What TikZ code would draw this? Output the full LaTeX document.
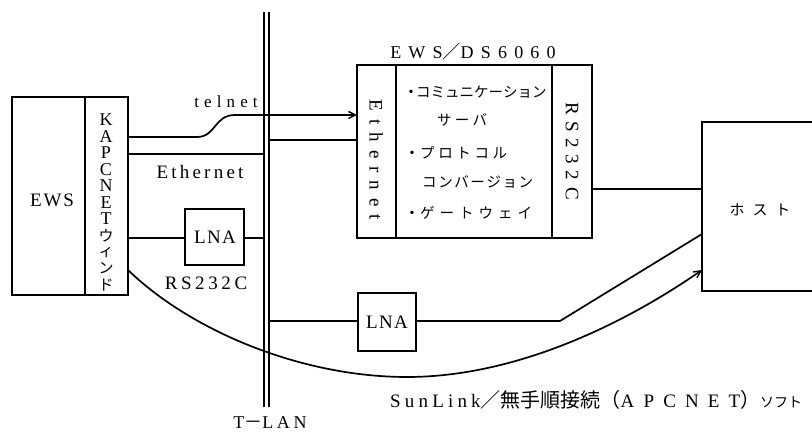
\documentclass[tikz,border=0pt]{standalone}
\usepackage{fontspec}
\setmainfont{Liberation Serif}
\newfontfamily\jp{Noto Sans CJK JP}
\usetikzlibrary{arrows.meta}
\newcommand{\ls}[2]{{\addfontfeature{LetterSpace=#1}#2}}
\newcommand{\fs}[1]{\fontsize{#1}{#1}\selectfont}
\begin{document}
\begin{tikzpicture}[x=1pt,y=-1pt,
  box/.style={draw,line width=2pt,rectangle,inner sep=0pt},
  wire/.style={line width=1.7pt},
  rail/.style={line width=1.8pt},
  lbl/.style={inner sep=0pt,font=\fs{19}},
  jlbl/.style={inner sep=0pt,font=\jp\fs{14.5}},
  barb/.style={-{Straight Barb[length=7pt,width=7pt,line width=1.4pt]}}]
\useasboundingbox (0,0) rectangle (812,435);
% boxes
\node[box,minimum width=116pt,minimum height=198pt] (ews) at (70,196) {};
\node[box,minimum width=235pt,minimum height=173pt] (ds) at (474.5,151.5) {};
\node[box,minimum width=59pt,minimum height=56pt] (lna1) at (214.5,237) {};
\node[box,minimum width=58pt,minimum height=58pt] (lna2) at (387,322) {};
\node[box,minimum width=128pt,minimum height=169pt] (host) at (766,206.5) {};
% dividers
\coordinate (ewsd) at (85,0);
\draw[line width=1.6pt] (ews.north -| ewsd) -- (ews.south -| ewsd);
\coordinate (dsd1) at (396,0);
\coordinate (dsd2) at (552,0);
\draw[line width=1.6pt] (ds.north -| dsd1) -- (ds.south -| dsd1);
\draw[line width=1.6pt] (ds.north -| dsd2) -- (ds.south -| dsd2);
% T-LAN rails
\coordinate (r1t) at (264,12); \coordinate (r1b) at (264,407);
\coordinate (r2t) at (269,12); \coordinate (r2b) at (269,407);
\draw[rail] (r1t) -- (r1b);
\draw[rail] (r2t) -- (r2b);
% texts
\node[lbl] (tews) at (52,200) {\ls{10}{EWS}};
\foreach \ch/\yy [count=\i] in {K/120,A/136.5,P/153,C/169.5,N/186,E/202.5,T/219}
  \node[lbl,font=\fs{18}] (kp\i) at (106,\yy) {\ch};
\foreach \ch/\yy [count=\i] in {ウ/235.5,ィ/252,ン/268.5,ド/285}
  \node[jlbl,font=\jp\fs{15}] (kj\i) at (106,\yy) {\ch};
\node[lbl,font=\fs{17}] (ttelnet) at (226,102) {\ls{30}{telnet}};
\node[lbl,font=\fs{19}] (teth) at (200,172) {\ls{17}{Ethernet}};
\node[lbl] (tlna1) at (215,237) {\ls{7}{LNA}};
\node[lbl] (tlna2) at (387,322) {\ls{7}{LNA}};
\node[lbl] (trs) at (206,283) {\ls{19}{RS232C}};
\node[lbl,font=\fs{18}] (ttitle) at (473,52) {\ls{40}{EWS}{\jp ／}\ls{40}{DS6060}};
\node[lbl,font=\fs{19},rotate=-90] (tdeth) at (376,160) {\ls{42}{Ethernet}};
\node[lbl,font=\fs{19},rotate=-90] (tdrs) at (572,151) {\ls{35}{RS232C}};
\node[jlbl,font=\jp\fs{15}] (thost) at (760,210) {ホ\hspace{8pt}ス\hspace{8pt}ト};
\node[lbl,font=\fs{18},anchor=base] (ttlan) at (270,429) {\ls{20}{T}{\jp －}\ls{20}{LAN}};
% middle list
\node[inner sep=0pt,font=\fs{14}] (b1) at (411,93) {•};
\node[jlbl,anchor=west] (m1) at (416,92) {\makebox[117pt][s]{コ\hfill ミ\hfill ュ\hfill ニ\hfill ケ\hfill ー\hfill シ\hfill ョ\hfill ン}};
\node[jlbl,anchor=west] (m2) at (437,120) {\makebox[50pt][s]{サ\hfill ー\hfill バ}};
\node[inner sep=0pt,font=\fs{14}] (b2) at (412,154) {•};
\node[jlbl,anchor=west] (m3) at (420,153) {\makebox[87pt][s]{プ\hfill ロ\hfill ト\hfill コ\hfill ル}};
\node[jlbl,anchor=west] (m4) at (422,182) {\makebox[111pt][s]{コ\hfill ン\hfill バ\hfill ー\hfill ジ\hfill ョ\hfill ン}};
\node[inner sep=0pt,font=\fs{14}] (b3) at (412,214) {•};
\node[jlbl,anchor=west] (m5) at (420,213) {\makebox[112pt][s]{ゲ\hfill ー\hfill ト\hfill ウ\hfill ェ\hfill イ}};
% bottom label
\node[lbl,anchor=west,font=\fs{19}] (tsun) at (390,400) {\ls{22}{SunLink}{\jp\fs{20}／無手順接続（}\ls{48}{APCNET}{\jp\fs{20}）}{\jp\fs{14}ソフト}};
% connectors
\coordinate (e1) at (128,137); \coordinate (e1b) at (197,137);
\coordinate (e1c) at (235,115); \coordinate (e1d) at (357,115);
\draw[wire,barb] (e1) -- (e1b) .. controls (216,137) and (214,115) .. (e1c) -- (e1d);
\coordinate (e2) at (128,154);
\draw[wire] (e2) -- (e2 -| r1t);
\coordinate (e3) at (269,140);
\draw[wire] (e3) -- (e3 -| ds.west);
\coordinate (e4) at (128,238);
\draw[wire] (e4) -- (lna1.west |- e4);
\draw[wire] (lna1.east |- e4) -- (e4 -| r1t);
\coordinate (e5) at (592,189);
\draw[wire] (e5) -- (e5 -| host.west);
\coordinate (e6) at (269,321); \coordinate (e6b) at (560,321); \coordinate (e6c) at (702,234);
\draw[wire] (e6) -- (lna2.west |- e6);
\draw[wire] (lna2.east |- e6) -- (e6b) -- (e6c);
\coordinate (c0) at (128,270); \coordinate (cm) at (407,377); \coordinate (c1) at (702,270);
\draw[wire,barb] (c0) .. controls (190,330) and (300,377) .. (cm) .. controls (520,377) and (630,320) .. (c1);
\end{tikzpicture}
\end{document}
